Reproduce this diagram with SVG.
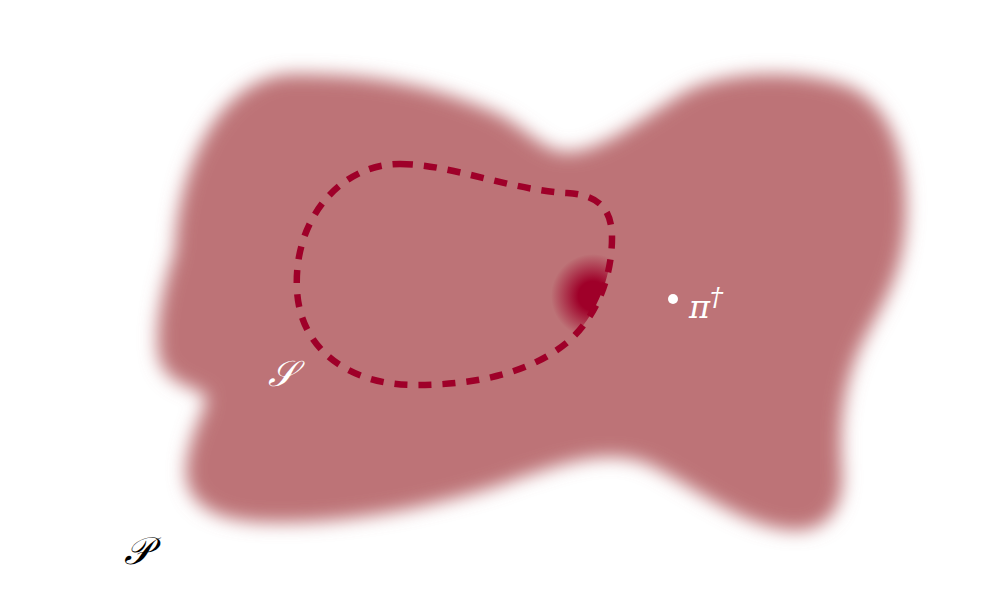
<svg xmlns="http://www.w3.org/2000/svg" width="992" height="602" viewBox="0 0 992 602">
<style>
.lbl{font-family:"DejaVu Serif","Liberation Serif",serif;font-style:italic}
.w{fill:#ffffff}
.k{fill:#000000}
</style>
<defs>
<filter id="blur" x="-20%" y="-20%" width="140%" height="140%">
<feGaussianBlur stdDeviation="9"/>
</filter>
<radialGradient id="spot" cx="593" cy="296" r="42" gradientUnits="userSpaceOnUse">
<stop offset="0" stop-color="#9f0029" stop-opacity="1"/>
<stop offset="0.35" stop-color="#9f0029" stop-opacity="1"/>
<stop offset="1" stop-color="#9f0029" stop-opacity="0"/>
</radialGradient>
<clipPath id="inS">
<path d="M 400,164 C 450,164 510,190 567,193 C 600,195 612,210 612,238 C 612,272 600,312 570,340 C 530,375 470,385 415,385 C 350,385 300,350 297,290 C 293,220 340,164 400,164 Z"/>
</clipPath>
</defs>
<rect width="992" height="602" fill="#ffffff"/>
<g id="P">
<path filter="url(#blur)" fill="#bd7377" d="M 175,250 C 178,165 222,74 295,74 C 380,74 440,88 500,115 C 530,132 545,152 567,152 C 600,152 640,120 680,95 C 720,70 800,68 850,87 C 900,110 910,180 905,230 C 900,290 870,320 855,360 C 840,400 840,440 842,470 C 845,510 825,533 790,530 C 740,525 700,490 650,465 C 610,448 570,460 500,485 C 420,510 340,525 260,522 C 210,520 180,500 187,460 C 192,430 205,410 207,397 C 195,385 160,385 158,350 C 155,320 165,280 175,250 Z"/>
</g>
<g id="spotGroup">
<circle cx="593" cy="296" r="42" fill="url(#spot)" clip-path="url(#inS)"/>
</g>
<g id="connectors">
<path d="M 400,164 C 450,164 510,190 567,193 C 600,195 612,210 612,238 C 612,272 600,312 570,340 C 530,375 470,385 415,385 C 350,385 300,350 297,290 C 293,220 340,164 400,164 Z" fill="none" stroke="#9f0029" stroke-width="6.5" stroke-dasharray="13 11"/>
</g>
<g id="S">
<text class="lbl w" x="268" y="386" font-size="36">𝒮</text>
</g>
<g id="pi">
<circle cx="673" cy="299" r="5" fill="#ffffff"/>
<text class="lbl w" x="689" y="318" font-size="32">π</text>
<text class="lbl w" x="710" y="306" font-size="26" font-style="normal">†</text>
</g>
<g id="Plbl">
<text class="lbl k" x="124" y="564" font-size="38">𝒫</text>
</g>
</svg>
